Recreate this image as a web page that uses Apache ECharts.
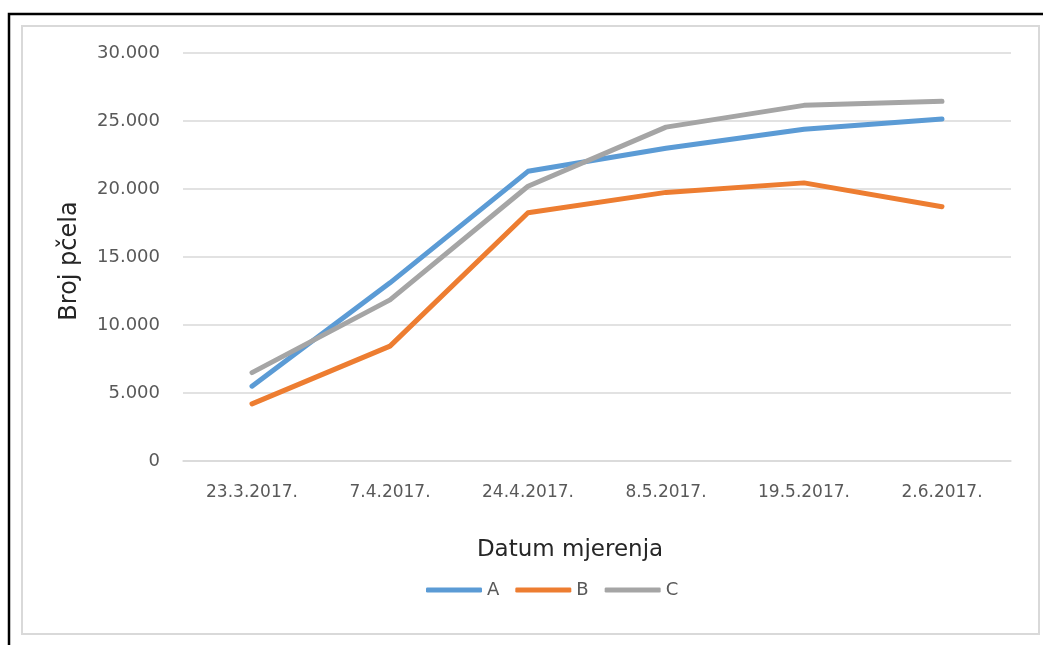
<!DOCTYPE html>
<html>
<head>
<meta charset="utf-8">
<script src="https://cdn.jsdelivr.net/npm/echarts@6/dist/echarts.min.js"></script>
<style>
html,body{margin:0;padding:0;background:#fff;}
#chart{width:1043px;height:645px;}
</style>
</head>
<body>
<div id="chart"></div>
<script>
const categories = ['23.3.2017.', '7.4.2017.', '24.4.2017.', '8.5.2017.', '19.5.2017.', '2.6.2017.'];
const seriesA = [5500, 13100, 21300, 23000, 24400, 25150];
const seriesB = [4200, 8450, 18250, 19750, 20450, 18700];
const seriesC = [6500, 11850, 20200, 24550, 26150, 26450];
const seriesNames = ['A', 'B', 'C'];
const colors = ['#5B9BD5', '#ED7D31', '#A5A5A5'];
const yTicks = {min: 0, max: 30000, interval: 5000};

const FONT = 'DejaVu Sans';
const chart = echarts.init(document.getElementById('chart'), null, {renderer: 'canvas'});
function fmt(v){ return String(v).replace(/\B(?=(\d{3})+(?!\d))/g, '.'); }
const data = [seriesA, seriesB, seriesC];

chart.setOption({
  backgroundColor: '#ffffff',
  animation: false,
  color: colors,
  title: [{
    text: 'Datum mjerenja',
    left: 565, top: 534, textAlign: 'center',
    textStyle: {fontFamily: FONT, fontSize: 23, fontWeight: 'normal', color: '#262626'}
  }],
  graphic: [
    {type: 'rect', shape: {x: 9, y: 14, width: 1100, height: 700}, style: {fill: null, stroke: '#000', lineWidth: 2.5}, silent: true},
    {type: 'rect', shape: {x: 22, y: 26, width: 1017, height: 608}, style: {fill: null, stroke: '#D9D9D9', lineWidth: 2}, silent: true},
    {type: 'text', x: 70, y: 261, rotation: Math.PI / 2,
      style: {text: 'Broj pčela', fontFamily: FONT, fontSize: 24, fill: '#262626', align: 'center', verticalAlign: 'middle'}}
  ],
  legend: {
    data: seriesNames,
    left: 421, top: 576,
    icon: 'roundRect',
    itemWidth: 56, itemHeight: 5, itemGap: 16,
    textStyle: {fontFamily: FONT, fontSize: 18, color: '#595959'}
  },
  grid: {left: 183, right: 32, top: 53, bottom: 184, containLabel: false},
  xAxis: {
    type: 'category',
    data: categories,
    boundaryGap: true,
    axisLine: {show: true, lineStyle: {color: '#D9D9D9', width: 1.5}},
    axisTick: {show: false},
    axisLabel: {fontFamily: FONT, fontSize: 17, color: '#595959', margin: 23, interval: 0}
  },
  yAxis: {
    type: 'value',
    min: yTicks.min, max: yTicks.max, interval: yTicks.interval,
    axisLine: {show: false},
    axisTick: {show: false},
    splitLine: {lineStyle: {color: '#D9D9D9', width: 1.5}},
    axisLabel: {fontFamily: FONT, fontSize: 18, color: '#595959', margin: 23, formatter: fmt}
  },
  series: seriesNames.map((n, i) => ({
    name: n, type: 'line', data: data[i],
    symbol: 'none',
    lineStyle: {width: 5, color: colors[i], cap: 'round', join: 'round'},
    itemStyle: {color: colors[i]}
  }))
});
</script>
</body>
</html>
